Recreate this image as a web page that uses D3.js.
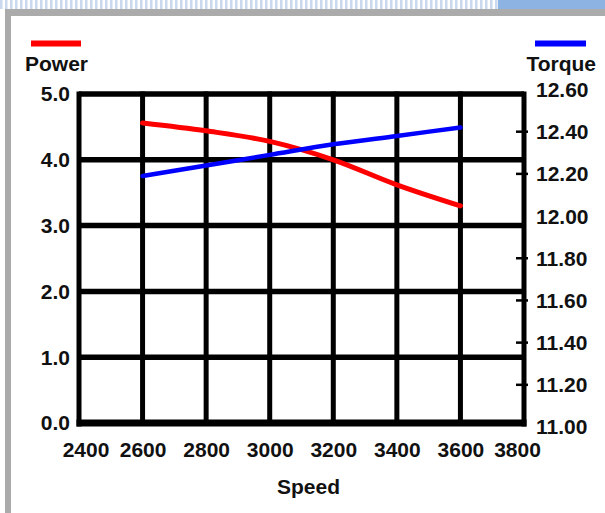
<!DOCTYPE html>
<html><head><meta charset="utf-8">
<script src="https://cdn.jsdelivr.net/npm/d3@7"></script>
<style>
html,body{margin:0;padding:0;background:#fff;}
svg{display:block;font-family:"Liberation Sans",Arial,sans-serif;font-weight:bold;}
</style></head><body>
<svg id="c" width="605" height="513"></svg>
<script>
const speeds = [2600, 2800, 3000, 3200, 3400, 3600];
const power = [4.56, 4.44, 4.28, 4.00, 3.62, 3.30];
const torque = [12.19, 12.24, 12.29, 12.34, 12.38, 12.42];
const speedTicks = [2400, 2600, 2800, 3000, 3200, 3400, 3600, 3800];
const powerTicks = [0, 1, 2, 3, 4, 5];
const torqueTicks = [11.0, 11.2, 11.4, 11.6, 11.8, 12.0, 12.2, 12.4, 12.6];
const torqueMarks = [11.2, 11.4, 11.6, 11.8, 12.2, 12.4];

const svg = d3.select("#c");

// frame decoration
const defs = svg.append("defs");
const pat = defs.append("pattern").attr("id","stripes").attr("width",5).attr("height",10).attr("patternUnits","userSpaceOnUse");
pat.append("rect").attr("width",5).attr("height",10).attr("fill","#ffffff");
pat.append("rect").attr("width",2.5).attr("height",10).attr("fill","#c9d8ec");
svg.append("rect").attr("x",0).attr("y",0).attr("width",498).attr("height",9).attr("fill","url(#stripes)");
svg.append("rect").attr("x",498).attr("y",0).attr("width",107).attr("height",9).attr("fill","#8db3e2");
svg.append("rect").attr("x",5).attr("y",9).attr("width",600).attr("height",7).attr("fill","#ababab");
svg.append("rect").attr("x",5).attr("y",9).attr("width",6).attr("height",504).attr("fill","#ababab");

const x = d3.scaleLinear().domain([2400, 3800]).range([79, 524]);
const yP = d3.scaleLinear().domain([0, 5]).range([423, 94]);
const yT = d3.scaleLinear().domain([11, 12.6]).range([427, 89.5]);

// grid
const g = svg.append("g");
g.selectAll("line.v").data(speedTicks.slice(1, -1)).join("line")
  .attr("x1", d => x(d)).attr("x2", d => x(d))
  .attr("y1", yP(5) - 2.5).attr("y2", yP(0))
  .attr("stroke", "#000").attr("stroke-width", 5);
g.selectAll("line.h").data(powerTicks.slice(1)).join("line")
  .attr("x1", x(2400)).attr("x2", x(3800))
  .attr("y1", d => yP(d)).attr("y2", d => yP(d))
  .attr("stroke", "#000").attr("stroke-width", 5.5);
// axis lines
g.append("line").attr("x1", x(2400)).attr("x2", x(2400)).attr("y1", yP(5) - 2.5).attr("y2", yP(0) + 3.5).attr("stroke","#000").attr("stroke-width",5);
g.append("line").attr("x1", x(3800)).attr("x2", x(3800)).attr("y1", yP(5) - 2.5).attr("y2", yP(0) + 3.5).attr("stroke","#000").attr("stroke-width",5);
g.append("line").attr("x1", x(2400) - 2.5).attr("x2", x(3800) + 2.5).attr("y1", yP(0)).attr("y2", yP(0)).attr("stroke","#000").attr("stroke-width",7);

// right tick marks
g.selectAll("line.tm").data(torqueMarks).join("line")
  .attr("x1", x(3800) - 8).attr("x2", x(3800) + 4)
  .attr("y1", d => yT(d)).attr("y2", d => yT(d))
  .attr("stroke", "#000").attr("stroke-width", 2.5);

// axes (labels)
const fs = 21;
const axL = svg.append("g").attr("transform", `translate(${x(2400)},0)`)
  .call(d3.axisLeft(yP).tickValues(powerTicks).tickFormat(d3.format(".1f")).tickSize(0).tickPadding(9));
const axR = svg.append("g").attr("transform", `translate(${x(3800)},0)`)
  .call(d3.axisRight(yT).tickValues(torqueTicks).tickFormat(d3.format(".2f")).tickSize(0).tickPadding(12));
const axB = svg.append("g").attr("transform", `translate(0,${yP(0)})`)
  .call(d3.axisBottom(x).tickValues(speedTicks).tickFormat(d3.format("d")).tickSize(0));
[axL, axR, axB].forEach(a => {
  a.select(".domain").remove();
  a.selectAll("text").attr("font-size", fs).attr("font-family", '"Liberation Sans",Arial,sans-serif')
    .attr("font-weight", "bold").attr("fill", "#111");
});
axB.selectAll("text").attr("y", 34).attr("dy", 0)
  .attr("dx", (d, i) => i === 0 ? 6.5 : (i === speedTicks.length - 1 ? -7 : 0));
axL.selectAll("text").attr("dy", "0.33em");
axR.selectAll("text").attr("dy", "0.33em");

// series
const lineP = d3.line().x((d, i) => x(speeds[i])).y(d => yP(d)).curve(d3.curveMonotoneX);
const lineT = d3.line().x((d, i) => x(speeds[i])).y(d => yT(d)).curve(d3.curveMonotoneX);
svg.append("path").attr("d", lineP(power)).attr("fill","none").attr("stroke","#ff0000").attr("stroke-width",5).attr("stroke-linecap","round");
svg.append("path").attr("d", lineT(torque)).attr("fill","none").attr("stroke","#0000ff").attr("stroke-width",4.5).attr("stroke-linecap","round");

// legends / titles
svg.append("line").attr("x1",31).attr("x2",81).attr("y1",43.5).attr("y2",43.5).attr("stroke","#ff0000").attr("stroke-width",6);
svg.append("line").attr("x1",535).attr("x2",586).attr("y1",43.5).attr("y2",43.5).attr("stroke","#0000ff").attr("stroke-width",6);
svg.append("text").attr("x",25).attr("y",70.5).attr("font-size",fs).attr("fill","#111").text("Power");
svg.append("text").attr("x",596).attr("y",70.5).attr("text-anchor","end").attr("font-size",fs).attr("fill","#111").text("Torque");
svg.append("text").attr("x",308.5).attr("y",493.5).attr("text-anchor","middle").attr("font-size",fs).attr("fill","#111").text("Speed");
</script>
</body></html>
